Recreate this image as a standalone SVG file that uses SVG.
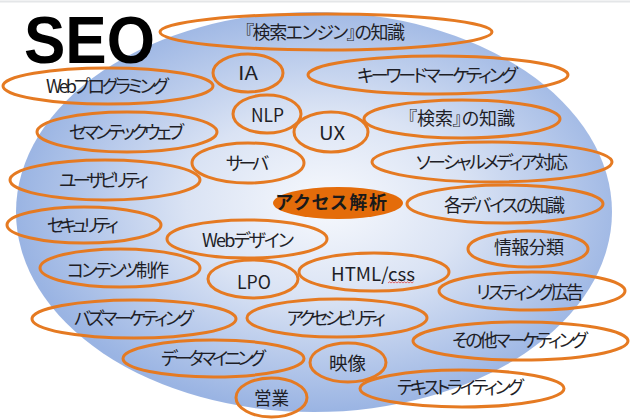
<svg xmlns="http://www.w3.org/2000/svg" width="630" height="420" viewBox="0 0 630 420">
<defs>
<radialGradient id="bg" cx="52%" cy="48%" r="52%">
<stop offset="0" stop-color="#f7f9fd"/>
<stop offset="0.45" stop-color="#dae3f4"/>
<stop offset="1" stop-color="#9ab4e3"/>
</radialGradient>
<style>
.n{fill:none;stroke:#e57a22;stroke-width:3}
.t{font-family:"Noto Sans CJK JP","Noto Sans",sans-serif;font-size:18px;fill:#1e1e26;text-anchor:middle;font-feature-settings:"palt"}
.b{font-weight:bold;font-size:18px;fill:#1a1a1a}
</style>
</defs>
<rect width="630" height="420" fill="#ffffff"/>
<line x1="0" y1="1.5" x2="630" y2="1.5" stroke="#e4e6e8" stroke-width="2"/>
<ellipse id="sphere" cx="314" cy="212" rx="298" ry="200" fill="url(#bg)"/>
<text x="24" y="63" font-family="Liberation Sans, Arial, sans-serif" font-weight="bold" font-size="66" fill="#000" textLength="131" lengthAdjust="spacingAndGlyphs">SEO</text>
<g id="connectors"></g>
<g id="n1"><ellipse class="n" cx="326" cy="32" rx="166" ry="18"/><text class="t" x="325" y="39" textLength="160">『検索エンジン』の知識</text></g>
<g id="n2"><ellipse class="n" cx="108" cy="86" rx="105" ry="18"/><text class="t" x="107.5" y="93" textLength="123">Webプログラミング</text></g>
<g id="n3"><ellipse class="n" cx="248" cy="73" rx="35" ry="19"/><text class="t" x="248" y="79.5" textLength="20" lengthAdjust="spacingAndGlyphs">IA</text></g>
<g id="n4"><ellipse class="n" cx="438" cy="75" rx="130" ry="19"/><text class="t" x="437.5" y="81.5" textLength="161">キーワードマーケティング</text></g>
<g id="n5"><ellipse class="n" cx="267" cy="114" rx="34" ry="19"/><text class="t" x="267.5" y="121.5" textLength="33" lengthAdjust="spacingAndGlyphs">NLP</text></g>
<g id="n6"><ellipse class="n" cx="331" cy="132" rx="37" ry="20"/><text class="t" x="332" y="139.5" textLength="26" lengthAdjust="spacingAndGlyphs">UX</text></g>
<g id="n7"><ellipse class="n" cx="462" cy="119" rx="98" ry="19"/><text class="t" x="461.5" y="124.5" textLength="107">『検索』の知識</text></g>
<g id="n8"><ellipse class="n" cx="127" cy="132" rx="90" ry="20"/><text class="t" x="126.5" y="138.5" textLength="115">セマンテックウェブ</text></g>
<g id="n9"><ellipse class="n" cx="248" cy="163" rx="56" ry="20"/><text class="t" x="247.5" y="169.5" textLength="43">サーバ</text></g>
<g id="n10"><ellipse class="n" cx="492" cy="162" rx="120" ry="20"/><text class="t" x="492" y="168.5" textLength="152">ソーシャルメディア対応</text></g>
<g id="n11"><ellipse class="n" cx="105" cy="180" rx="95" ry="20"/><text class="t" x="104" y="186.5" textLength="90">ユーザビリティ</text></g>
<g id="n12"><ellipse cx="338" cy="203" rx="65" ry="16" fill="#e46c0a"/><text class="t b" x="331.5" y="208.5" textLength="111">アクセス解析</text></g>
<g id="n13"><ellipse class="n" cx="505" cy="204" rx="98" ry="19"/><text class="t" x="504.5" y="211.5" textLength="121">各デバイスの知識</text></g>
<g id="n14"><ellipse class="n" cx="84" cy="225" rx="77" ry="18"/><text class="t" x="83" y="231.5" textLength="72">セキュリティ</text></g>
<g id="n15"><ellipse class="n" cx="247" cy="239" rx="80" ry="19"/><text class="t" x="248" y="246.5" textLength="92">Webデザイン</text></g>
<g id="n16"><ellipse class="n" cx="528" cy="249" rx="60" ry="18"/><text class="t" x="529" y="253.5" textLength="70">情報分類</text></g>
<g id="n17"><ellipse class="n" cx="120" cy="268" rx="80" ry="19"/><text class="t" x="118" y="276.5" textLength="102">コンテンツ制作</text></g>
<g id="n18"><ellipse class="n" cx="253" cy="279" rx="45" ry="19"/><text class="t" x="254" y="288.5" textLength="34" lengthAdjust="spacingAndGlyphs">LPO</text></g>
<g id="n19"><ellipse class="n" cx="374" cy="272" rx="75" ry="19"/><text class="t" x="373" y="280.5" textLength="84" lengthAdjust="spacingAndGlyphs">HTML/css</text><path d="M388 283 l1.5 -1.2 l1.5 1.2 l1.5 -1.2 l1.5 1.2 l1.5 -1.2 l1.5 1.2 l1.5 -1.2 l1.5 1.2 l1.5 -1.2 l1.5 1.2 l1.5 -1.2 l1.5 1.2 l1.5 -1.2 l1.5 1.2 l1.5 -1.2 l1.5 1.2 l1.5 -1.2" fill="none" stroke="#e04848" stroke-width="0.8"/></g>
<g id="n20"><ellipse class="n" cx="532" cy="291" rx="93" ry="19"/><text class="t" x="530" y="298.5" textLength="108">リスティング広告</text></g>
<g id="n21"><ellipse class="n" cx="134" cy="319" rx="102" ry="19"/><text class="t" x="134" y="324.5" textLength="120">バズマーケティング</text></g>
<g id="n22"><ellipse class="n" cx="337" cy="318" rx="90" ry="19"/><text class="t" x="336.5" y="324.5" textLength="99">アクセシビリティ</text></g>
<g id="n23"><ellipse class="n" cx="520.5" cy="341" rx="107.5" ry="19"/><text class="t" x="520" y="346.5" textLength="136">その他マーケティング</text></g>
<g id="n24"><ellipse class="n" cx="213.5" cy="358.5" rx="90.5" ry="18.5"/><text class="t" x="213.5" y="364.5" textLength="105">データマイニング</text></g>
<g id="n25"><ellipse class="n" cx="348" cy="362.5" rx="38" ry="19.5"/><text class="t" x="347.5" y="369.5" textLength="37" lengthAdjust="spacingAndGlyphs">映像</text></g>
<g id="n26"><ellipse class="n" cx="271.5" cy="397.5" rx="35.5" ry="19.5"/><text class="t" x="271.5" y="404.5" textLength="35" lengthAdjust="spacingAndGlyphs">営業</text></g>
<g id="n27"><ellipse class="n" cx="462" cy="388.5" rx="102" ry="18.5"/><text class="t" x="460.5" y="393.5" textLength="127">テキストライティング</text></g>
</svg>
